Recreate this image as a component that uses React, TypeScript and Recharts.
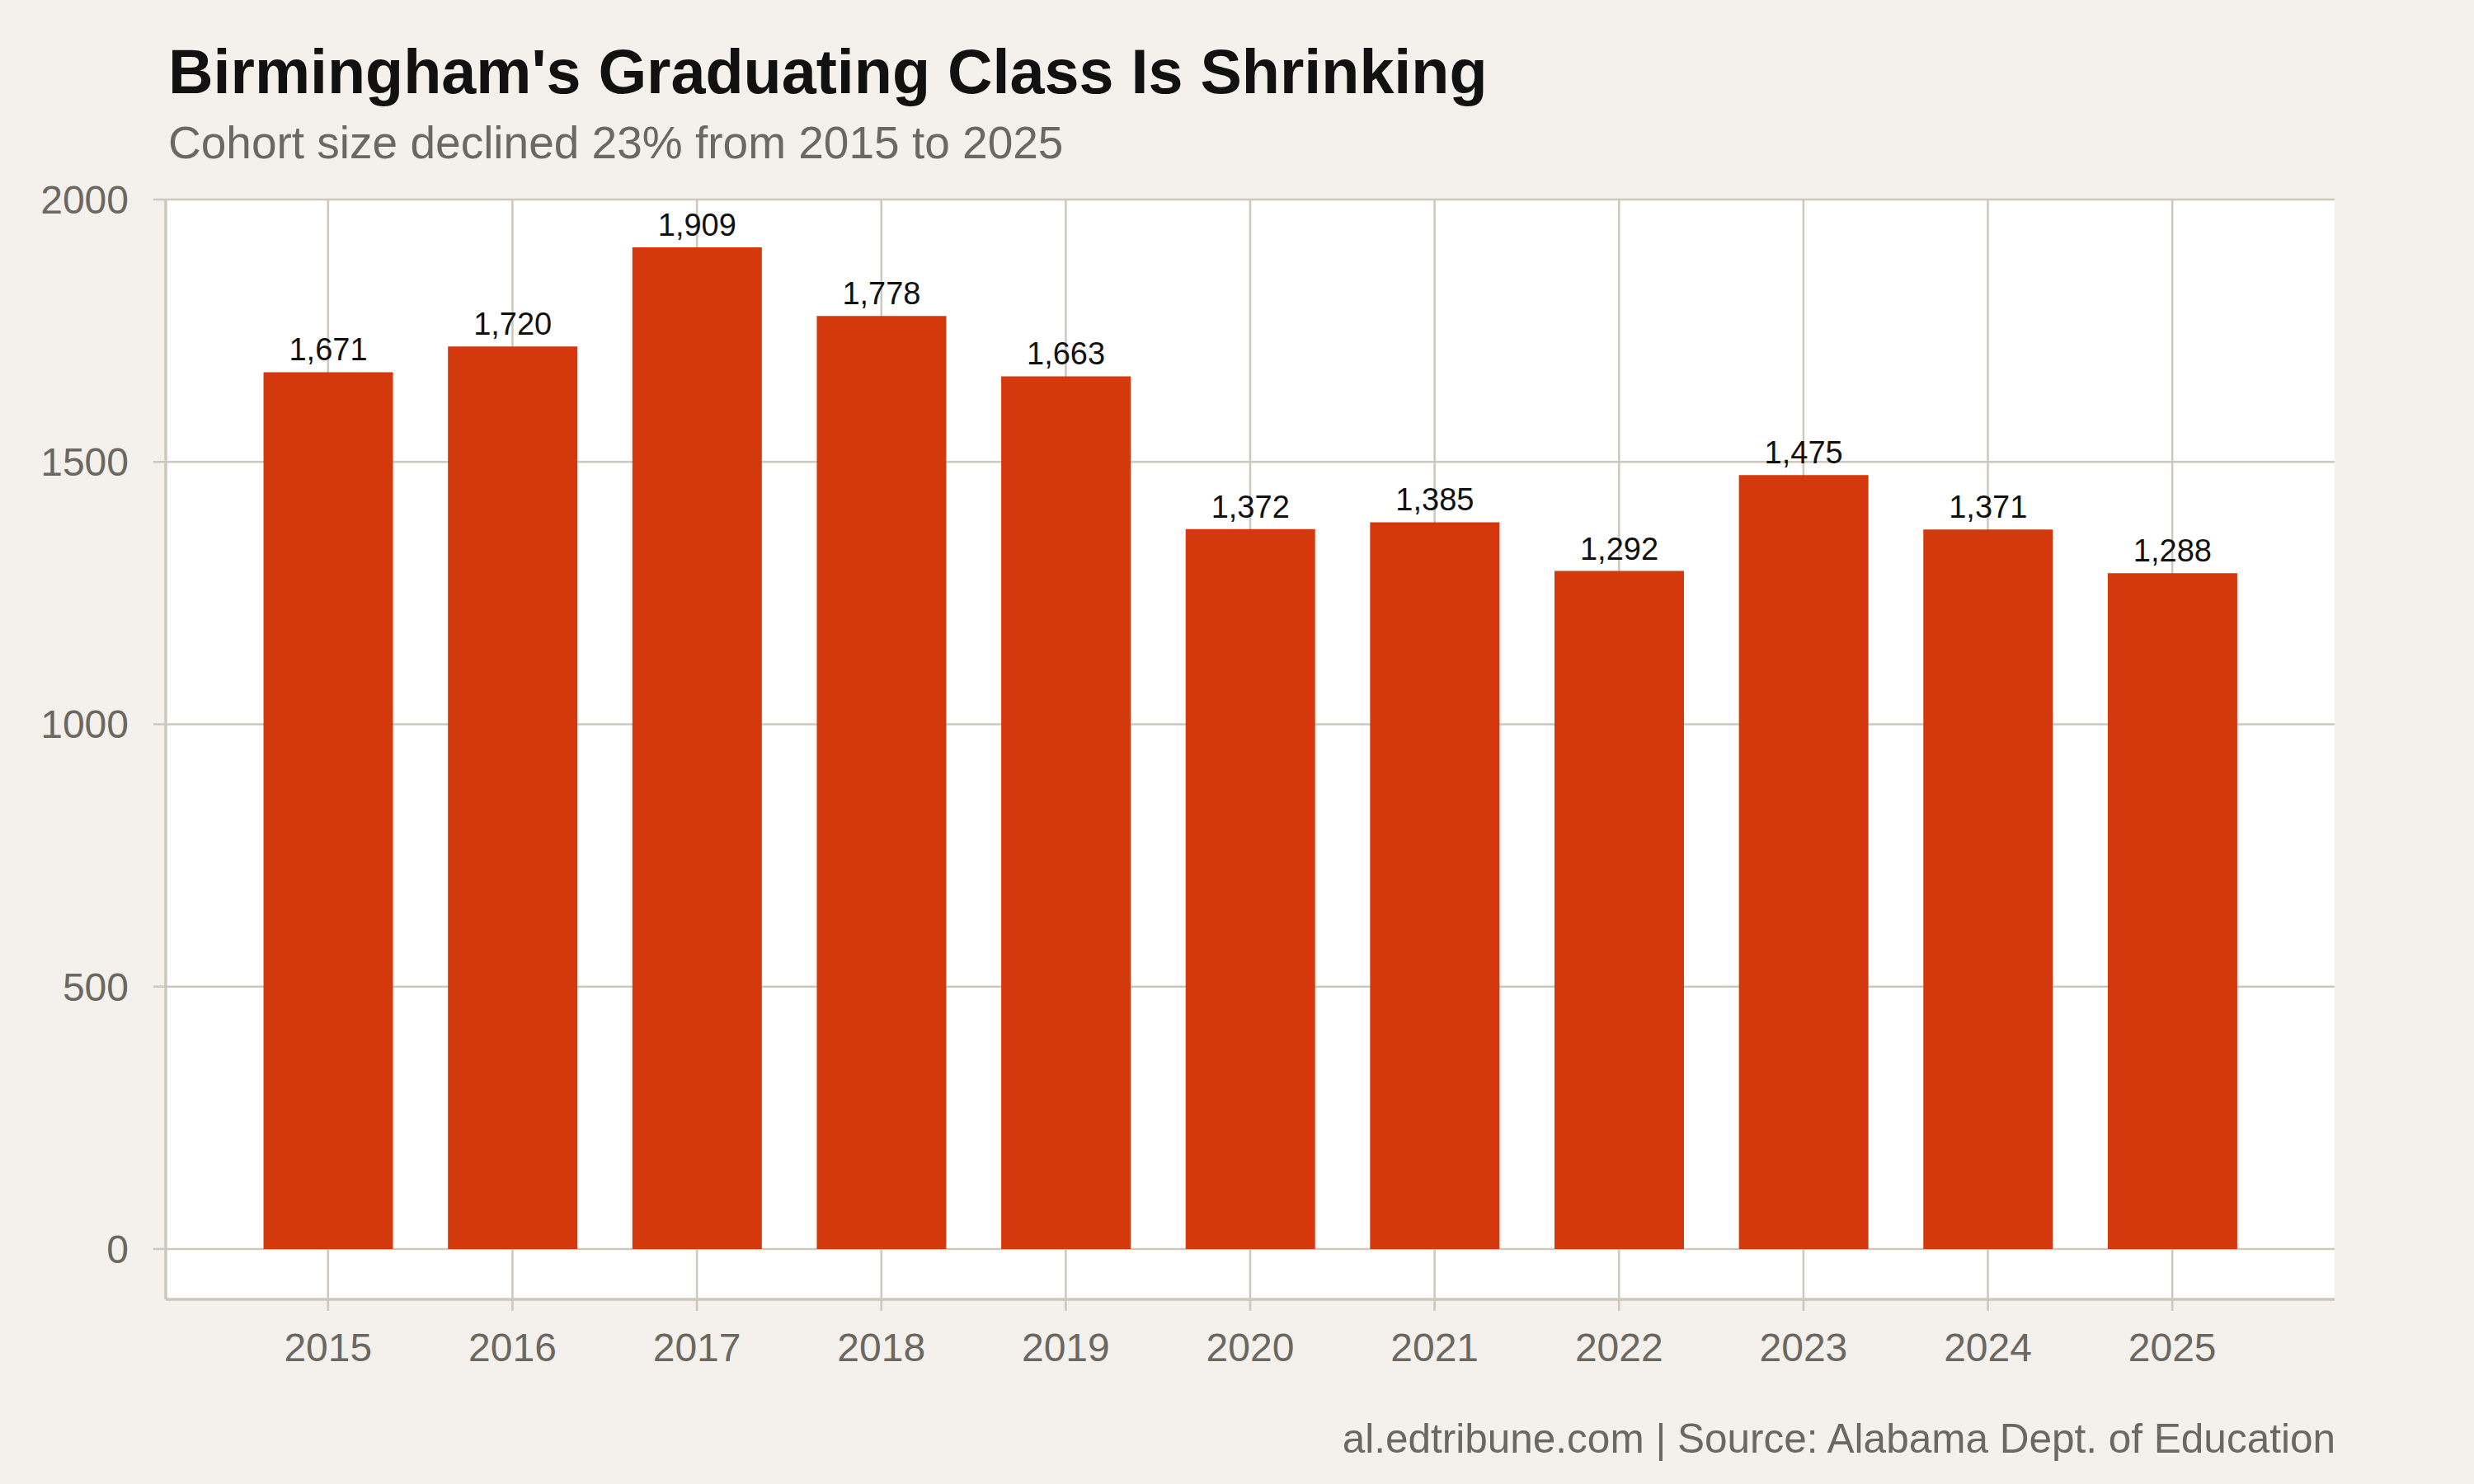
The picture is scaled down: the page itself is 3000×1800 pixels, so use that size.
import React from 'react';
import { BarChart, Bar, XAxis, YAxis, CartesianGrid, LabelList } from 'recharts';

const years = ['2015', '2016', '2017', '2018', '2019', '2020', '2021', '2022', '2023', '2024', '2025'];
const cohortSizes = [1671, 1720, 1909, 1778, 1663, 1372, 1385, 1292, 1475, 1371, 1288];
const yTicks = [0, 500, 1000, 1500, 2000];

const titleText = "Birmingham's Graduating Class Is Shrinking";
const subtitleText = 'Cohort size declined 23% from 2015 to 2025';
const captionText = 'al.edtribune.com | Source: Alabama Dept. of Education';

const FONT = '"Liberation Sans", Helvetica, Arial, sans-serif';
const BG = '#f4f1ec';
const GRID = '#cdc7bd';
const GRAY = '#6b6761';
const BAR = '#d4380d';

const data = years.map((year, i) => ({ year, value: cohortSizes[i] }));

export default function App() {
  return (
    <div
      style={{
        position: 'absolute',
        left: 0,
        top: 0,
        width: 3000,
        height: 1800,
        background: BG,
        fontFamily: FONT,
      }}
    >
      <BarChart
        width={3000}
        height={1800}
        data={data}
        margin={{ top: 242, left: 101, right: 169, bottom: 124 }}
        barCategoryGap="15%"
      >
        <CartesianGrid fill="#ffffff" stroke={GRID} strokeWidth={2.5} syncWithTicks />
        <XAxis
          dataKey="year"
          height={100}
          padding={{ left: 85, right: 85 }}
          axisLine={{ stroke: GRID, strokeWidth: 3.5 }}
          tickLine={{ stroke: GRID, strokeWidth: 2.5 }}
          tickSize={14}
          tickMargin={27}
          tick={{ fill: GRAY, fontSize: 48, fontFamily: FONT }}
        />
        <YAxis
          width={100}
          domain={[-96, 2000]}
          ticks={yTicks}
          allowDataOverflow
          axisLine={{ stroke: GRID, strokeWidth: 3.5 }}
          tickLine={{ stroke: GRID, strokeWidth: 2.5 }}
          tickSize={15}
          tickMargin={30}
          tick={{ fill: GRAY, fontSize: 48, fontFamily: FONT }}
        />
        <Bar dataKey="value" fill={BAR} isAnimationActive={false}>
          <LabelList
            dataKey="value"
            position="top"
            offset={14}
            formatter={(v: any) => Number(v).toLocaleString('en-US')}
            style={{ fill: '#111111', fontSize: 38, fontFamily: FONT }}
          />
        </Bar>
      </BarChart>
      <svg
        width={3000}
        height={1800}
        style={{ position: 'absolute', left: 0, top: 0, pointerEvents: 'none' }}
      >
        <text x={204} y={113} fontSize={75.5} fontWeight="bold" fill="#111111" fontFamily={FONT}>
          {titleText}
        </text>
        <text x={204} y={192} fontSize={55} fill={GRAY} fontFamily={FONT}>
          {subtitleText}
        </text>
        <text x={2832} y={1762} fontSize={49.5} fill={GRAY} fontFamily={FONT} textAnchor="end">
          {captionText}
        </text>
      </svg>
    </div>
  );
}
